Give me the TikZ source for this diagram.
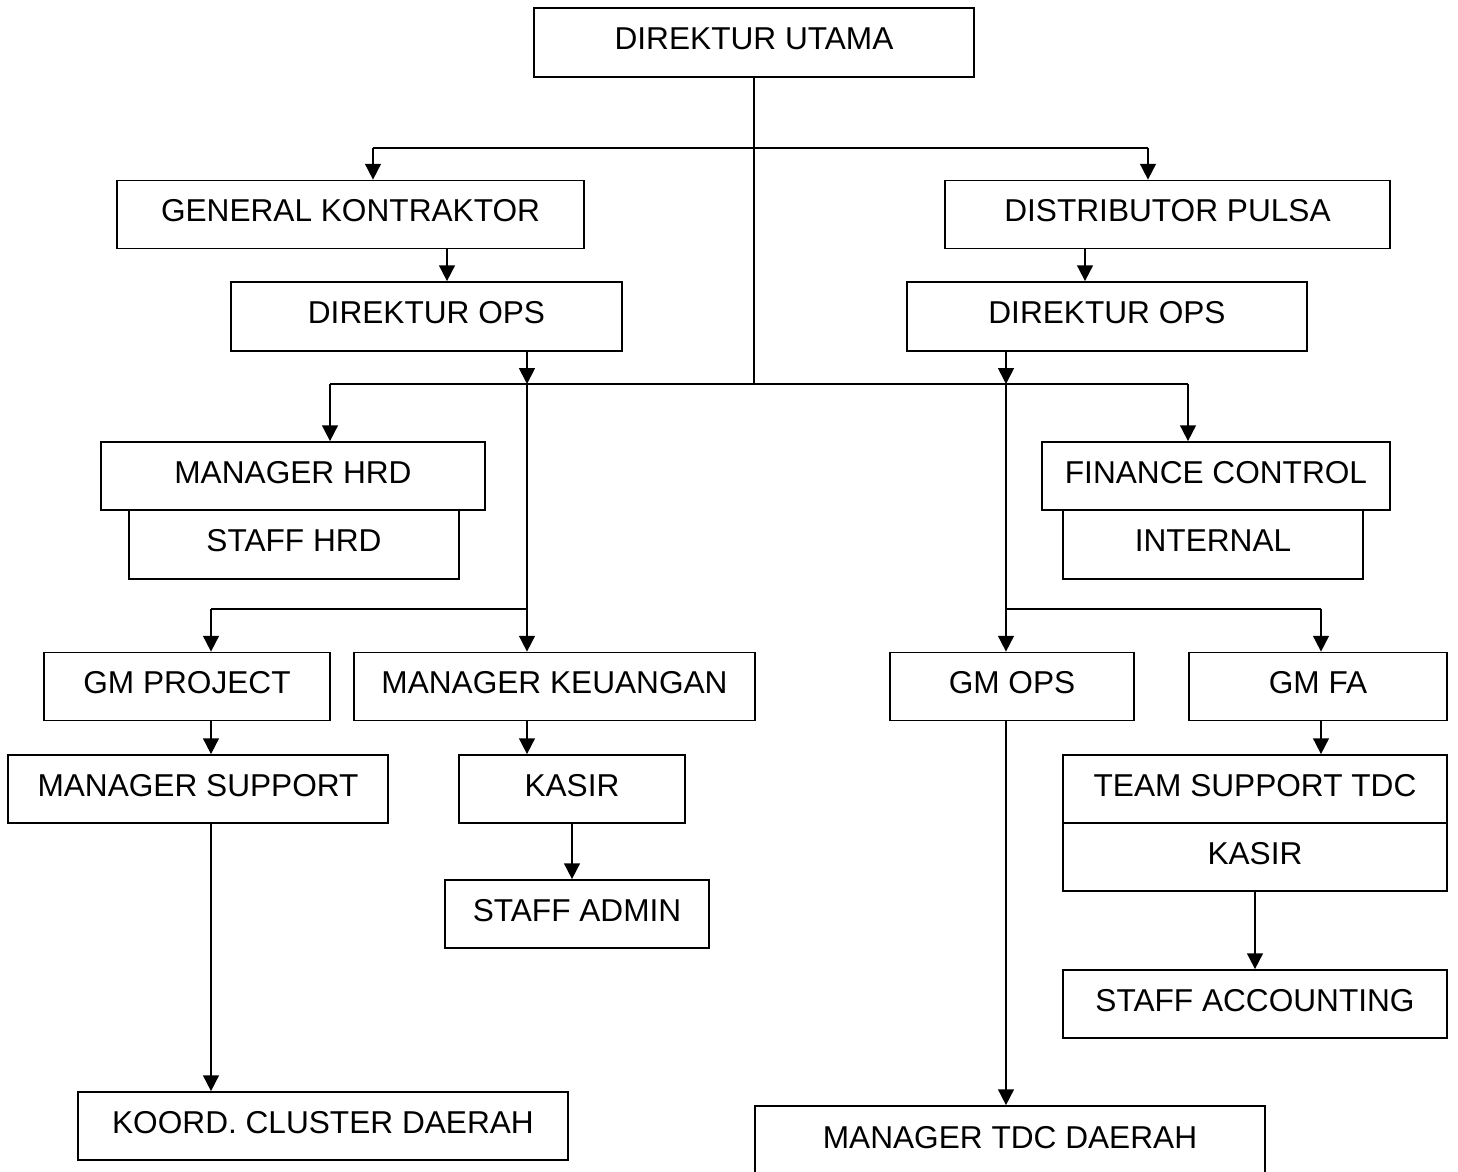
\documentclass[tikz,border=0pt]{standalone}
\usepackage{fontspec}
\setmainfont{Liberation Sans}
\usepackage{tikz}
\usetikzlibrary{arrows.meta,positioning}
\tikzset{box/.style={
    draw,
    minimum height=1.36cm,
    inner sep=0pt,
    text height=13pt, text depth=4.6pt,
    font=\fontsize{18}{21}\selectfont
  },
  arr/.style={-{Triangle[width=9pt,length=9pt]}}
}

\begin{document}
\begin{tikzpicture}[x=0.02cm,y=-0.02cm,line width=1pt]
    \useasboundingbox[fill=white] (0,0) rectangle (1458,1171);
    % boxes
    \node[box,minimum width=8.8cm,minimum height=1.38cm] (du) at (754,42.5) {DIREKTUR UTAMA};
    \node[box,minimum width=9.34cm] (gk) at (350.5,214.5) {GENERAL KONTRAKTOR};
    \node[box,minimum width=8.9cm] (dp) at (1167.5,214.5) {DISTRIBUTOR PULSA};
    \node[box,minimum width=7.82cm,minimum height=1.38cm] (opsl) at (426.5,316.5) {DIREKTUR OPS};
    \node[box,minimum width=8cm,minimum height=1.38cm] (opsr) at (1107,316.5) {DIREKTUR OPS};
    \node[box,minimum width=7.68cm] (hrd) at (293,476) {MANAGER HRD};
    \node[box,minimum width=6.6cm,minimum height=1.38cm] (shrd) at (294,544.5) {STAFF HRD};
    \node[box,minimum width=6.96cm] (fc) at (1216,476) {FINANCE CONTROL};
    \node[box,minimum width=6cm,minimum height=1.38cm] (intl) at (1213,544.5) {INTERNAL};
    \node[box,minimum width=5.72cm] (gmp) at (187,686.5) {GM PROJECT};
    \node[box,minimum width=8.02cm] (mk) at (554.5,686.5) {MANAGER KEUANGAN};
    \node[box,minimum width=4.88cm] (gmo) at (1012,686.5) {GM OPS};
    \node[box,minimum width=5.16cm] (gmfa) at (1318,686.5) {GM FA};
    \node[box,minimum width=7.6cm] (ms) at (198,789) {MANAGER SUPPORT};
    \node[box,minimum width=4.52cm] (kasl) at (572,789) {KASIR};
    \node[box,minimum width=5.28cm] (sadm) at (577,914) {STAFF ADMIN};
    \node[box,minimum width=7.68cm] (tst) at (1255,789) {TEAM SUPPORT TDC};
    \node[box,minimum width=7.68cm] (kasr) at (1255,857) {KASIR};
    \node[box,minimum width=7.68cm] (sacc) at (1255,1004) {STAFF ACCOUNTING};
    \node[box,minimum width=9.8cm] (koord) at (323,1126) {KOORD. CLUSTER DAERAH};
    \node[box,minimum width=10.2cm,minimum height=1.4cm] (mtdc) at (1010,1141) {MANAGER TDC DAERAH};
    % bends and drops
    \coordinate (busL) at (373,148);
    \coordinate (busR) at (1148,148);
    \coordinate (midL) at (330,384);
    \coordinate (midR) at (1188,384);
    \coordinate (colL) at (527,384);
    \coordinate (colR) at (1006,384);
    \coordinate (lowL) at (211,609);
    \coordinate (lowR) at (1321,609);
    \coordinate (xgk) at (447,0);
    \coordinate (xdp) at (1085,0);
    % connectors
    \draw (du.south) -- (du.south |- midL);
    \draw (busL) -- (busR);
    \draw[arr] (busL) -- (busL |- gk.north);
    \draw[arr] (busR) -- (busR |- dp.north);
    \draw[arr] (xgk |- gk.south) -- (xgk |- opsl.north);
    \draw[arr] (xdp |- dp.south) -- (xdp |- opsr.north);
    \draw (midL) -- (midR);
    \draw[arr] (midL) -- (midL |- hrd.north);
    \draw[arr] (midR) -- (midR |- fc.north);
    \draw[arr] (colL |- opsl.south) -- (colL);
    \draw[arr] (colL) -- (colL |- mk.north);
    \draw[arr] (colR |- opsr.south) -- (colR);
    \draw[arr] (colR) -- (colR |- gmo.north);
    \draw (lowL) -- (colL |- lowL);
    \draw[arr] (lowL) -- (lowL |- gmp.north);
    \draw (colR |- lowR) -- (lowR);
    \draw[arr] (lowR) -- (lowR |- gmfa.north);
    \draw[arr] (lowL |- gmp.south) -- (lowL |- ms.north);
    \draw[arr] (lowL |- ms.south) -- (lowL |- koord.north);
    \draw[arr] (colL |- mk.south) -- (colL |- kasl.north);
    \draw[arr] (kasl.south) -- (kasl.south |- sadm.north);
    \draw[arr] (lowR |- gmfa.south) -- (lowR |- tst.north);
    \draw[arr] (kasr.south) -- (sacc.north);
    \draw[arr] (colR |- gmo.south) -- (colR |- mtdc.north);
\end{tikzpicture}
\end{document}
